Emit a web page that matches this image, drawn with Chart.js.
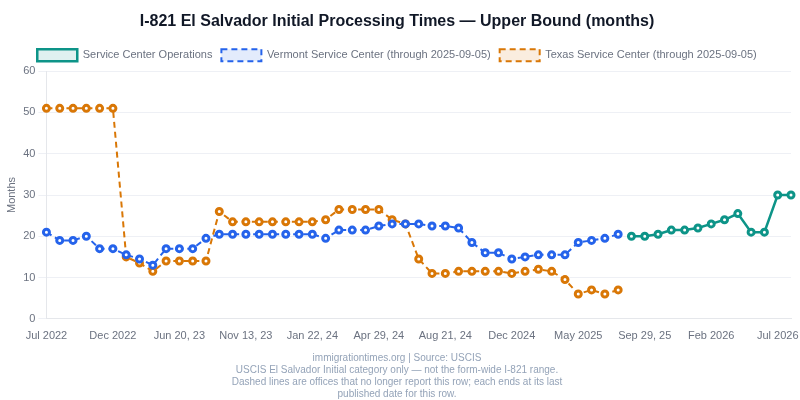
<!DOCTYPE html>
<html>
<head>
<meta charset="utf-8">
<script src="https://cdn.jsdelivr.net/npm/chart.js@4.4.1/dist/chart.umd.min.js"></script>
<style>
html,body{margin:0;padding:0;background:#fff;}
#wrap{width:800px;height:400px;}
</style>
</head>
<body>
<div id="wrap"><canvas id="c"></canvas></div>
<script>
const labels = [
  "Jul 2022","Aug 2022","Sep 2022","Oct 2022","Nov 2022","Dec 2022","Jan 2023","Feb 2023","Mar 2023","May 2023",
  "Jun 20, 23","Jul 18, 23","Aug 15, 23","Sep 12, 23","Oct 16, 23","Nov 13, 23","Nov 27, 23","Dec 11, 23","Dec 26, 23","Jan 08, 24",
  "Jan 22, 24","Feb 12, 24","Mar 04, 24","Mar 25, 24","Apr 15, 24","Apr 29, 24","May 20, 24","Jun 10, 24","Jul 01, 24","Jul 29, 24",
  "Aug 21, 24","Sep 18, 24","Oct 16, 24","Nov 13, 24","Nov 27, 24","Dec 2024","Jan 2025","Feb 2025","Mar 2025","Apr 2025",
  "May 2025","Jun 2025","Jul 2025","Sep 05, 25","Sep 15, 25","Sep 29, 25","Oct 2025","Nov 2025","Dec 2025","Jan 2026",
  "Feb 2026","Mar 2026","Apr 2026","May 2026","Jun 2026","Jul 2026","Aug 2026"
];
const serviceCenter = [
  null,null,null,null,null,null,null,null,null,null,
  null,null,null,null,null,null,null,null,null,null,
  null,null,null,null,null,null,null,null,null,null,
  null,null,null,null,null,null,null,null,null,null,
  null,null,null,null,20,20,20.5,21.5,21.5,22,
  23,24,25.5,21,21,30,30
];
const vermont = [
  21,19,19,20,17,17,15.5,14.5,13,17,
  17,17,19.5,20.5,20.5,20.5,20.5,20.5,20.5,20.5,
  20.5,19.5,21.5,21.5,21.5,22.5,23,23,23,22.5,
  22.5,22,18.5,16,16,14.5,15,15.5,15.5,15.5,
  18.5,19,19.5,20.5
];
const texas = [
  51,51,51,51,51,51,15,13.5,11.5,14,
  14,14,14,26,23.5,23.5,23.5,23.5,23.5,23.5,
  23.5,24,26.5,26.5,26.5,26.5,24,23,14.5,11,
  11,11.5,11.5,11.5,11.5,11,11.5,12,11.5,9.5,
  6,7,6,7
];
const yTicks = [0,10,20,30,40,50,60];
const footerLines = [
  "immigrationtimes.org | Source: USCIS",
  "USCIS El Salvador Initial category only \u2014 not the form-wide I-821 range.",
  "Dashed lines are offices that no longer report this row; each ends at its last",
  "published date for this row."
];

const FONT = "'Liberation Sans', Arial, Helvetica, sans-serif";
Chart.defaults.font.family = FONT;

function pointStyle(color) {
  return {
    pointRadius: 3,
    pointBorderWidth: 3,
    pointBackgroundColor: '#ffffff',
    pointBorderColor: color,
    pointHoverRadius: 4
  };
}

new Chart(document.getElementById('c'), {
  type: 'line',
  data: {
    labels: labels,
    datasets: [
      Object.assign({
        label: 'Service Center Operations',
        data: serviceCenter,
        borderColor: '#0d9488',
        backgroundColor: 'rgba(13,148,136,0.13)',
        borderWidth: 2.5,
        tension: 0,
        spanGaps: false
      }, pointStyle('#0d9488')),
      Object.assign({
        label: 'Vermont Service Center (through 2025-09-05)',
        data: vermont,
        borderColor: '#2563eb',
        backgroundColor: 'rgba(37,99,235,0.13)',
        borderWidth: 2,
        borderDash: [6,4],
        tension: 0
      }, pointStyle('#2563eb')),
      Object.assign({
        label: 'Texas Service Center (through 2025-09-05)',
        data: texas,
        borderColor: '#d97706',
        backgroundColor: 'rgba(217,119,6,0.13)',
        borderWidth: 2,
        borderDash: [6,4],
        tension: 0
      }, pointStyle('#d97706'))
    ]
  },
  options: {
    responsive: true,
    maintainAspectRatio: false,
    animation: false,
    layout: { padding: { left: 3, right: 9, top: 0, bottom: 0 } },
    plugins: {
      title: {
        display: true,
        text: 'I-821 El Salvador Initial Processing Times \u2014 Upper Bound (months)',
        color: '#111827',
        font: { size: 16, weight: 'bold', family: FONT },
        padding: { top: 12, bottom: 9 }
      },
      legend: {
        display: true,
        position: 'top',
        labels: {
          boxWidth: 40,
          boxHeight: 12,
          color: '#6b7280',
          font: { size: 11, family: FONT },
          padding: 9
        }
      },
      subtitle: {
        display: true,
        position: 'bottom',
        text: footerLines,
        color: '#94a3b8',
        font: { size: 10, family: FONT, lineHeight: 1.2 },
        padding: { top: 6, bottom: 0 }
      },
      tooltip: { enabled: false }
    },
    scales: {
      x: {
        grid: { display: false, drawTicks: true },
        border: { display: true, color: '#e5e7eb' },
        ticks: {
          color: '#6b7280',
          font: { size: 11, family: FONT },
          autoSkip: false,
          maxRotation: 0,
          callback: function(v, i) { return i % 5 === 0 ? labels[i] : ''; }
        }
      },
      y: {
        min: 0,
        max: 60,
        afterBuildTicks: function(axis) { axis.ticks = yTicks.map(v => ({ value: v })); },
        grid: { color: '#eef0f5', drawTicks: true },
        border: { display: true, color: '#e5e7eb' },
        ticks: { color: '#6b7280', font: { size: 11, family: FONT } },
        title: {
          display: true,
          text: 'Months',
          color: '#6b7280',
          font: { size: 11, family: FONT },
          padding: 2
        }
      }
    }
  }
});
</script>
</body>
</html>
